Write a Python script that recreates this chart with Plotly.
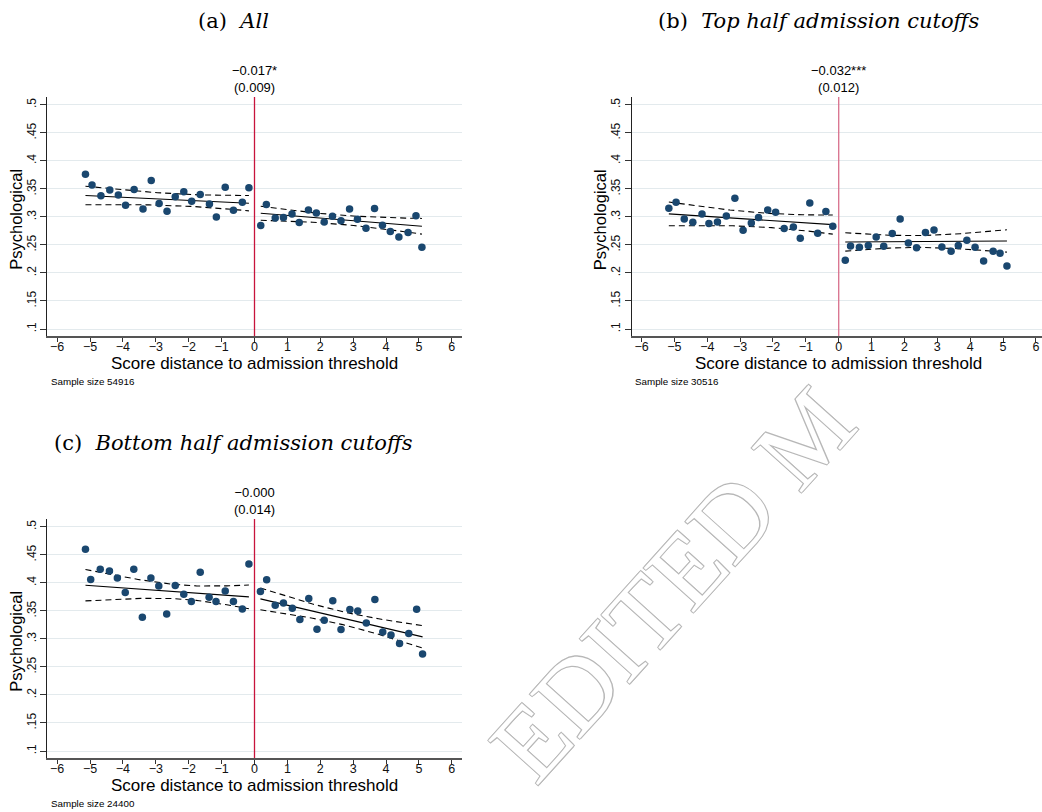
import numpy as np
import plotly.graph_objects as go

# ---------------- data ----------------
a_left_x = [-5.14, -4.94, -4.67, -4.40, -4.14, -3.92, -3.66, -3.39, -3.14, -2.90, -2.66,
            -2.41, -2.15, -1.91, -1.65, -1.37, -1.16, -0.89, -0.64, -0.37, -0.17]
a_left_y = [0.376, 0.357, 0.338, 0.348, 0.339, 0.321, 0.349, 0.314, 0.365, 0.324, 0.310,
            0.336, 0.345, 0.328, 0.340, 0.323, 0.300, 0.353, 0.312, 0.326, 0.352]
a_right_x = [0.19, 0.36, 0.63, 0.88, 1.14, 1.36, 1.64, 1.88, 2.12, 2.37, 2.63,
             2.89, 3.13, 3.39, 3.65, 3.89, 4.13, 4.39, 4.67, 4.91, 5.09]
a_right_y = [0.2845, 0.322, 0.298, 0.299, 0.305, 0.290, 0.3125, 0.307, 0.291, 0.301, 0.293,
             0.314, 0.296, 0.280, 0.315, 0.285, 0.274, 0.264, 0.272, 0.302, 0.246]

b_left_x = [-5.17, -4.95, -4.70, -4.44, -4.16, -3.95, -3.69, -3.42, -3.16, -2.91, -2.66,
            -2.44, -2.16, -1.92, -1.66, -1.38, -1.17, -0.88, -0.64, -0.39, -0.18]
b_left_y = [0.3155, 0.326, 0.2964, 0.2905, 0.3054, 0.2881, 0.2911, 0.3018, 0.3333, 0.2762, 0.2893,
            0.2988, 0.3125, 0.3083, 0.2792, 0.2821, 0.2619, 0.325, 0.2708, 0.3095, 0.2833]
b_right_x = [0.20, 0.36, 0.63, 0.90, 1.14, 1.37, 1.63, 1.87, 2.12, 2.37, 2.64,
             2.90, 3.14, 3.42, 3.64, 3.90, 4.15, 4.41, 4.70, 4.91, 5.12]
b_right_y = [0.2226, 0.2482, 0.2458, 0.2488, 0.2643, 0.2476, 0.2702, 0.2964, 0.2536, 0.2452, 0.272,
             0.2768, 0.2464, 0.2387, 0.2488, 0.2583, 0.2458, 0.2214, 0.2387, 0.2351, 0.2125]

c_left_x = [-5.14, -4.98, -4.69, -4.41, -4.17, -3.93, -3.67, -3.41, -3.15, -2.91, -2.67,
            -2.41, -2.15, -1.92, -1.65, -1.38, -1.17, -0.89, -0.64, -0.37, -0.17]
c_left_y = [0.4601, 0.406, 0.4244, 0.4214, 0.4089, 0.3827, 0.4244, 0.3387, 0.4089, 0.3946, 0.3446,
            0.3952, 0.3798, 0.3667, 0.419, 0.3744, 0.3667, 0.3857, 0.3667, 0.3536, 0.4339]
c_right_x = [0.18, 0.37, 0.63, 0.88, 1.15, 1.38, 1.65, 1.90, 2.12, 2.38, 2.63,
             2.90, 3.14, 3.40, 3.66, 3.90, 4.15, 4.41, 4.69, 4.93, 5.11]
c_right_y = [0.3845, 0.4054, 0.3601, 0.3643, 0.3548, 0.3345, 0.372, 0.3173, 0.3333, 0.3679, 0.3167,
             0.3524, 0.35, 0.3286, 0.3702, 0.3125, 0.3071, 0.2917, 0.3095, 0.353, 0.2732]

# linear fit per side: [value at cutoff, slope, centre of CI, min half-width, half-width growth]
a_left_fit = [0.3240, -0.00277, -2.19, 0.0105, 0.00433]
a_right_fit = [0.3074, -0.00474, 2.42, 0.0080, 0.00430]
b_left_fit = [0.2856, -0.00383, -2.20, 0.0125, 0.00572]
b_right_fit = [0.2553, 0.00035, 2.29, 0.0105, 0.00600]
c_left_fit = [0.3743, -0.00419, -2.18, 0.0125, 0.00846]
c_right_fit = [0.3739, -0.01375, 2.59, 0.0115, 0.00649]

panel_titles = ["(a)&nbsp;&nbsp;<i>All</i>",
                "(b)&nbsp;&nbsp;<i>Top half admission cutoffs</i>",
                "(c)&nbsp;&nbsp;<i>Bottom half admission cutoffs</i>"]
rd_estimates = ["\u22120.017*", "\u22120.032***", "\u22120.000"]
rd_std_errors = ["(0.009)", "(0.012)", "(0.014)"]
sample_sizes = [54916, 30516, 24400]

x_ticks = list(range(-6, 7))
y_ticks = [0.1, 0.15, 0.2, 0.25, 0.3, 0.35, 0.4, 0.45, 0.5]
y_tick_text = [".1", ".15", ".2", ".25", ".3", ".35", ".4", ".45", ".5"]

# ---------------- layout helpers ----------------
W, H = 1042, 812
def fx(p):
    return p / W
def fy(p):
    return 1 - p / H

NAVY = "#1a476f"
SANS = "Liberation Sans, Arial, sans-serif"
SERIF = "DejaVu Serif, serif"

panels = [
    dict(xs=(a_left_x, a_right_x), ys=(a_left_y, a_right_y), fits=(a_left_fit, a_right_fit),
         xdom=[fx(47.3), fx(461.7)], ydom=[fy(336), fy(97)], xr=[-6.3, 6.3],
         top=97, bottom=336, left=47.3, title_xy=(233, 21), red="#c8143c"),
    dict(xs=(b_left_x, b_right_x), ys=(b_left_y, b_right_y), fits=(b_left_fit, b_right_fit),
         xdom=[fx(631.7), 1.0], ydom=[fy(336), fy(97)], xr=[-6.3, (1042 - 838.7) / 32.86],
         top=97, bottom=336, left=631.7, title_xy=(818, 21), red="#d86f8c"),
    dict(xs=(c_left_x, c_right_x), ys=(c_left_y, c_right_y), fits=(c_left_fit, c_right_fit),
         xdom=[fx(47.3), fx(461.7)], ydom=[fy(758), fy(519)], xr=[-6.3, 6.3],
         top=519, bottom=758, left=47.3, title_xy=(233, 443), red="#c8143c"),
]

fig = go.Figure()
annotations = []
shapes = []

# watermark (drawn first so everything else sits over it)
annotations.append(dict(
    text="EDITED M", xref="paper", yref="paper", x=fx(672), y=fy(584),
    showarrow=False, textangle=-48, xanchor="center", yanchor="middle",
    font=dict(family="Liberation Serif, serif", size=102, color="white",
              shadow="1px 1px 0 #b8b8b8, -1px -1px 0 #b8b8b8, 1px -1px 0 #b8b8b8, -1px 1px 0 #b8b8b8")))

for i, p in enumerate(panels):
    n = "" if i == 0 else str(i + 1)
    xa, ya = "x" + n, "y" + n
    for side in range(2):
        xs = np.array(p["xs"][side])
        ys = np.array(p["ys"][side])
        b0, b1, xc, h0, k = p["fits"][side]
        xl = np.linspace(xs.min(), xs.max(), 60)
        fit = b0 + b1 * xl
        hw = np.sqrt(h0 ** 2 + (k * (xl - xc)) ** 2)
        for yy in (fit + hw, fit - hw):
            fig.add_trace(go.Scatter(x=xl, y=yy, mode="lines", xaxis=xa, yaxis=ya,
                                     line=dict(color="black", width=1.1, dash="6px,4px"),
                                     hoverinfo="skip", showlegend=False))
        fig.add_trace(go.Scatter(x=xl, y=fit, mode="lines", xaxis=xa, yaxis=ya,
                                 line=dict(color="black", width=1.1),
                                 hoverinfo="skip", showlegend=False))
        fig.add_trace(go.Scatter(x=xs, y=ys, mode="markers", xaxis=xa, yaxis=ya,
                                 marker=dict(color=NAVY, size=7.5, line=dict(width=0)),
                                 showlegend=False))

    fig.layout["xaxis" + n] = dict(
        domain=p["xdom"], range=p["xr"], anchor=ya, tickmode="array", tickvals=x_ticks,
        ticks="outside", ticklen=4, tickwidth=1, tickcolor="#333", ticklabelstandoff=-6,
        showline=True, linecolor="#555", linewidth=1.5, showgrid=False, zeroline=False,
        tickfont=dict(family=SANS, size=12.5, color="#111"))
    fig.layout["yaxis" + n] = dict(
        domain=p["ydom"], range=[0.0875, 0.514], anchor=xa, tickmode="array",
        tickvals=y_ticks, ticktext=y_tick_text, tickangle=-90,
        ticks="outside", ticklen=6, tickwidth=1, tickcolor="#333",
        showline=True, linecolor="#222", linewidth=1, showgrid=True,
        gridcolor="#e3eaed", gridwidth=1, zeroline=False,
        tickfont=dict(family=SANS, size=12, color="#111"))

    shapes.append(dict(type="line", xref=xa, yref=ya + " domain", x0=0, x1=0, y0=0, y1=1,
                       line=dict(color=p["red"], width=1.3), layer="above"))

    tx, ty = p["title_xy"]
    annotations.append(dict(text=panel_titles[i], xref="paper", yref="paper",
                            x=fx(tx), y=fy(ty), xanchor="center", yanchor="middle",
                            showarrow=False, font=dict(family=SERIF, size=21, color="black")))
    annotations.append(dict(text=rd_estimates[i] + "<br>" + rd_std_errors[i], xref=xa, yref="paper",
                            x=0, y=fy(p["top"]), xanchor="center", yanchor="bottom",
                            showarrow=False, font=dict(family=SANS, size=13, color="black")))
    annotations.append(dict(text="Score distance to admission threshold", xref=xa, yref="paper",
                            x=0, y=fy(p["bottom"] + 27.5), xanchor="center", yanchor="middle",
                            showarrow=False, font=dict(family=SANS, size=17, color="black")))
    annotations.append(dict(text="Psychological", xref="paper", yref="paper",
                            x=fx(p["left"] - 32), y=fy((p["top"] + p["bottom"]) / 2 + 3),
                            xanchor="center", yanchor="middle", textangle=-90,
                            showarrow=False, font=dict(family=SANS, size=16.5, color="black")))
    annotations.append(dict(text="Sample size %d" % sample_sizes[i], xref="paper", yref="paper",
                            x=fx(p["left"] + 1.5), y=fy(p["bottom"] + 45), xanchor="left",
                            yanchor="middle", showarrow=False,
                            font=dict(family=SANS, size=9.8, color="black")))

fig.update_layout(width=W, height=H, autosize=False, margin=dict(l=0, r=0, t=0, b=0),
                  paper_bgcolor="white", plot_bgcolor="white",
                  annotations=annotations, shapes=shapes, showlegend=False)

fig.write_html("out.html", config={"displayModeBar": False},
               post_script="document.body.style.margin='0';")
